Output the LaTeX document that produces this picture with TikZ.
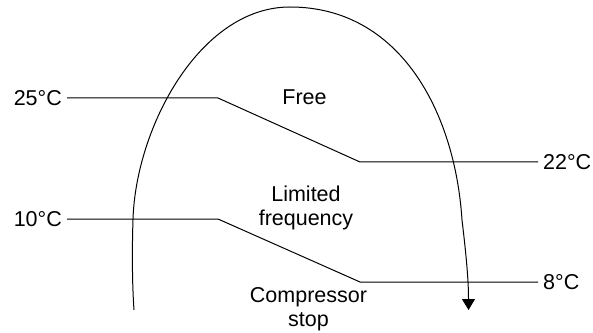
\documentclass[tikz,border=0pt]{standalone}
\usepackage{fontspec}
\setmainfont{Liberation Sans}
\usetikzlibrary{arrows.meta}
\begin{document}
\begin{tikzpicture}[x=1pt,y=1pt,
  lbl/.style={font=\fontsize{21.5}{24}\selectfont, inner ysep=0pt},
  tlbl/.style={lbl, inner xsep=5pt},
  zone/.style={lbl, align=center},
  ln/.style={line width=1pt, line join=miter},
  arc/.style={line width=1pt, -{Triangle[width=13pt,length=11pt]}}]
\useasboundingbox (0,0) rectangle (593,332);
% temperature labels
\node[tlbl, anchor=east] (t25) at (67,234) {25°C};
\node[tlbl, anchor=west] (t22) at (538,170) {22°C};
\node[tlbl, anchor=east] (t10) at (67,113) {10°C};
\node[tlbl, anchor=west] (t8)  at (538,50)  {8°C};
% bends
\coordinate (a1) at (218,234);
\coordinate (a2) at (360,170);
\coordinate (b1) at (218,113);
\coordinate (b2) at (360,50);
\draw[ln] (t25.east) -- (a1) -- (a2) -- (t22.west);
\draw[ln] (t10.east) -- (b1) -- (b2) -- (t8.west);
% zone texts
\node[lbl, anchor=base] (free) at (304.5,227) {Free};
\node[zone] (lim) at (306,124) {Limited\\frequency};
\node[zone] (comp) at (308.5,23) {Compressor\\stop};
% cycle curve
\coordinate (c0) at (134,22);
\coordinate (c1) at (133,113);
\coordinate (c2) at (290,325);
\coordinate (c3) at (462,112);
\coordinate (c4) at (468.5,22);
\draw[arc] (c0) .. controls (132,50) and (132.1,85) .. (c1)
  .. controls (136,205) and (200,325) .. (c2)
  .. controls (400,325) and (455,220) .. (c3)
  .. controls (466.8,72) and (468.5,50) .. (c4);
\end{tikzpicture}
\end{document}
